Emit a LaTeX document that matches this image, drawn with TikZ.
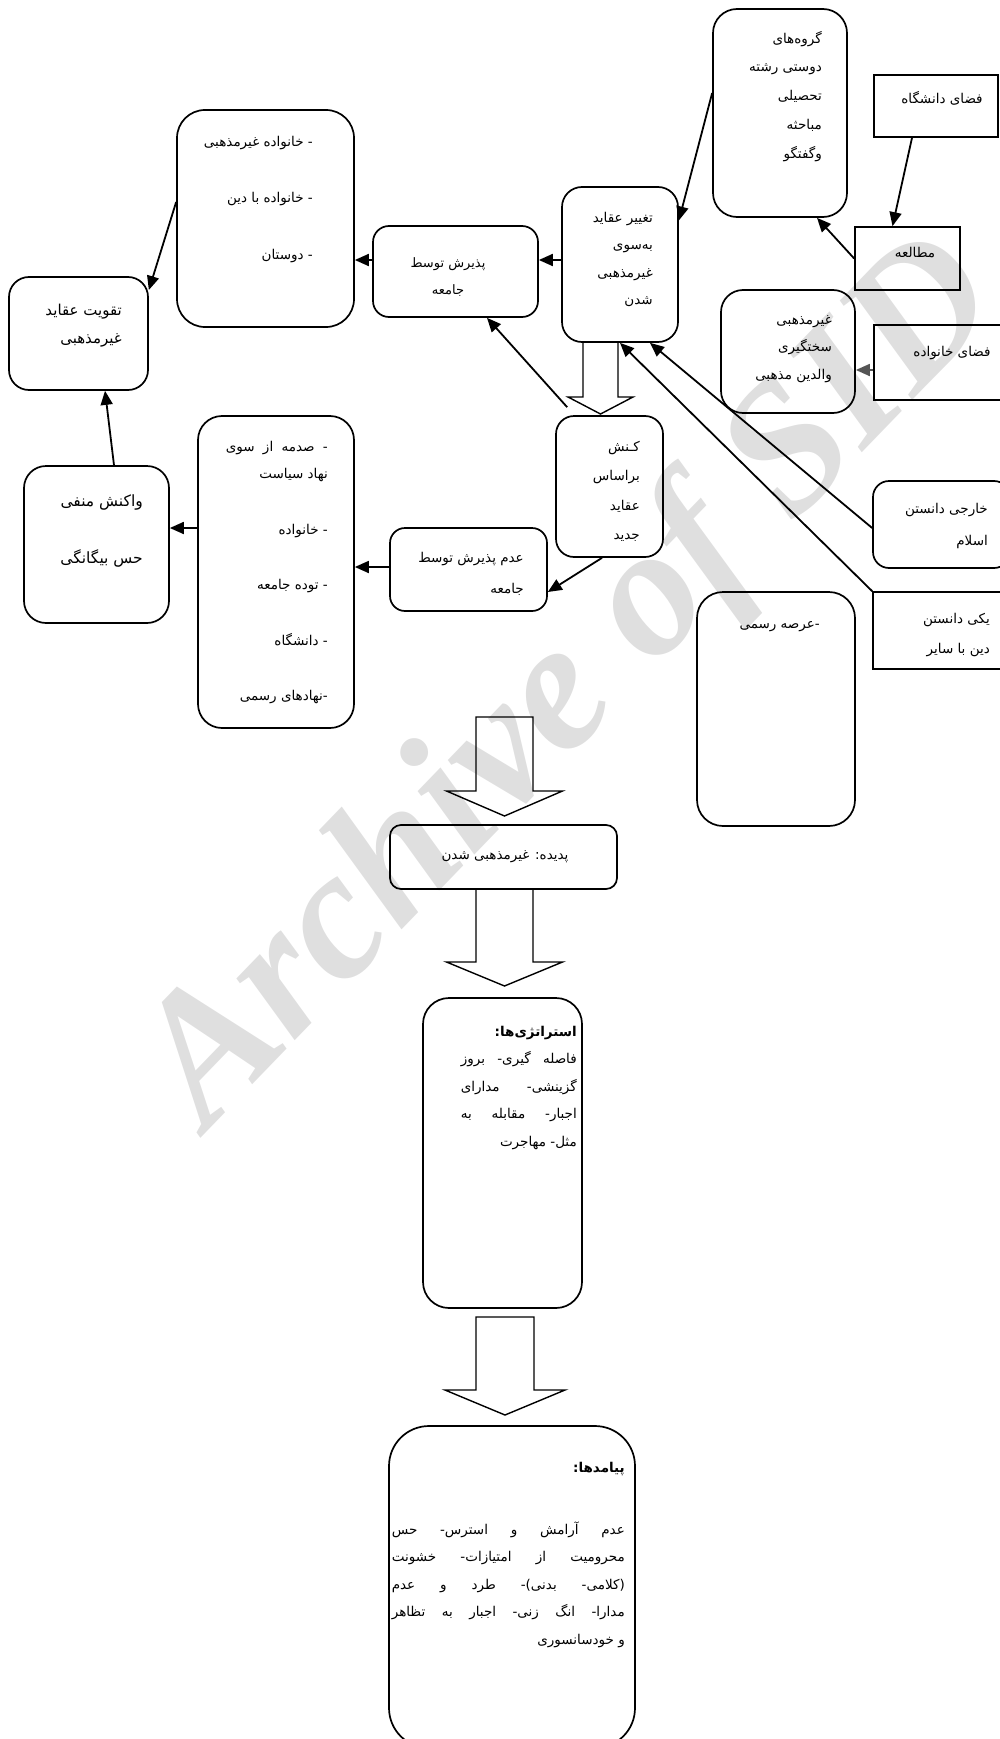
\documentclass[tikz,border=0pt]{standalone}
\usepackage{fontspec}
\usetikzlibrary{arrows.meta,calc}
\newfontfamily\arabicfont[Script=Arabic]{DejaVu Sans}
\newfontfamily\wmfont{Liberation Serif}
\TeXXeTstate=1
\definecolor{wmgrau}{HTML}{DFDFDF}
\definecolor{tipgrau}{HTML}{555555}
\newcommand{\fa}[1]{\beginR#1\endR}
\newcommand{\zk}{\kern0pt}
\newcommand{\js}{\hskip 3pt plus 1fill}
\newcommand{\jl}[2]{\hbox to #1{\beginR#2\endR}}
\tikzset{
  rund/.style={draw,line width=1.7pt,rounded corners=#1,inner sep=0pt},
  rund/.default=18pt,
  eck/.style={draw,line width=1.7pt,inner sep=0pt},
  pf/.style={-{Triangle[length=14pt,width=12pt]},line width=1.8pt},
  blk/.style={line width=1.4pt,line join=miter},
  txt/.style={font=\arabicfont\fontsize{#1}{27.5}\selectfont,align=right,inner sep=0pt,anchor=north east},
  txt/.default=13.5,
  ctxt/.style={font=\arabicfont\fontsize{#1}{27.5}\selectfont,align=center,inner sep=0pt},
  ctxt/.default=13.5,
  wm/.style={font=\wmfont\bfseries\itshape\fontsize{185}{185}\selectfont,text=wmgrau,inner sep=0pt},
}
\begin{document}
\begin{tikzpicture}[x=1pt,y=-1pt]
  \useasboundingbox (0,0) rectangle (1000,1739);
  \node[wm,rotate=46,anchor=base west] (wmark) at (207,1132) {Archive of SID};

  % boxes
  \node[rund=24pt,minimum width=134pt,minimum height=208pt] (goruh) at (780,113) {};
  \node[eck,minimum width=124pt,minimum height=62pt] (daneshgah) at (936,106) {};
  \node[eck,minimum width=105pt,minimum height=63pt] (motaleh) at (907.5,258.5) {};
  \node[eck,minimum width=136pt,minimum height=75pt] (khanevadeh) at (942,362.5) {};
  \node[rund=22pt,minimum width=134pt,minimum height=123pt] (sakht) at (788,351.5) {};
  \node[rund=20pt,minimum width=116pt,minimum height=155pt] (taghyir) at (620,264.5) {};
  \node[rund=16pt,minimum width=165pt,minimum height=91pt] (paziresh) at (455.5,271.5) {};
  \node[rund=28pt,minimum width=177pt,minimum height=217pt] (list1) at (265.5,218.5) {};
  \node[rund=20pt,minimum width=139pt,minimum height=113pt] (taghviat) at (78.5,333.5) {};
  \node[rund=22pt,minimum width=145pt,minimum height=157pt] (vakonesh) at (96.5,544.5) {};
  \node[rund=24pt,minimum width=156pt,minimum height=312pt] (list2) at (276,572) {};
  \node[rund=15pt,minimum width=157pt,minimum height=83pt] (adam) at (468.5,569.5) {};
  \node[rund=18pt,minimum width=107pt,minimum height=141pt] (konesh) at (609.5,486.5) {};
  \node[rund=16pt,minimum width=137pt,minimum height=87pt] (khareji) at (941.5,524.5) {};
  \node[eck,minimum width=137pt,minimum height=77pt] (yeki) at (941.5,630.5) {};
  \node[rund=26pt,minimum width=158pt,minimum height=234pt] (arseh) at (776,709) {};
  \node[rund=11pt,minimum width=227pt,minimum height=64pt] (padideh) at (503.5,857) {};
  \node[rund=26pt,minimum width=159pt,minimum height=310pt] (strat) at (502.5,1153) {};
  \node[rund=40pt,minimum width=246pt,minimum height=322pt] (payamad) at (512,1587) {};

  % texts
  \node[txt] (goruhT) at (822,31) {\fa{گروه‌های}\\[1.2pt]\fa{دوستی رشته}\\[1.2pt]\fa{تحصیلی}\\[1.2pt]\fa{مباحثه}\\[1.2pt]\fa{وگفتگو}};
  \node[ctxt] (daneshgahT) at (942,98) {\fa{فضای دانشگاه}};
  \node[ctxt] (motalehT) at (915,253) {\fa{مطالعه}};
  \node[ctxt] (khanevadehT) at (952,353) {\fa{فضای خانواده}};
  \node[txt] (sakhtT) at (832,315) {\fa{غیرمذهبی}\\\fa{سختگیری}\\\fa{والدین مذهبی}};
  \node[txt] (taghyirT) at (653,212) {\fa{تغییر عقاید}\\\fa{به‌سوی}\\\fa{غیرمذهبی}\\\fa{شدن}};
  \node[ctxt=13] (pazireshT) at (448,277) {\fa{پذیرش توسط}\\\fa{جامعه}};
  \node[txt] (list1T) at (313,136) {\fa{- خانواده غیرمذهبی}\\[29pt]\fa{- خانواده با دین}\\[29pt]\fa{- دوستان}};
  \node[txt=15] (taghviatT) at (122,304) {\fa{تقویت عقاید}\\\fa{غیرمذهبی}};
  \node[txt=15.5] (vakoneshT) at (143,495) {\fa{واکنش منفی}\\[29.5pt]\fa{حس بیگانگی}};
  \node[txt] (list2T) at (328,441) {\jl{102pt}{-\js صدمه\js از\js سوی}\\\fa{نهاد سیاست}\\[28pt]\fa{- خانواده}\\[28pt]\fa{- توده جامعه}\\[28pt]\fa{- دانشگاه}\\[28pt]\fa{-\zk نهادهای رسمی}};
  \node[txt] (adamT) at (524,552) {\fa{عدم پذیرش توسط}\\[3.5pt]\fa{جامعه}};
  \node[txt] (koneshT) at (640,441) {\fa{کـنش}\\[2pt]\fa{براساس}\\[2pt]\fa{عقاید}\\[2pt]\fa{جدید}};
  \node[txt] (kharejiT) at (988,503) {\fa{خارجی دانستن}\\[4.5pt]\fa{اسلام}};
  \node[txt] (yekiT) at (990,613) {\fa{یکی دانستن}\\[2.5pt]\fa{دین با سایر}};
  \node[txt] (arsehT) at (820,621) {\fa{-\zk عرصه رسمی}};
  \node[ctxt] (padidehT) at (505,857) {\fa{پدیده\zk: غیرمذهبی شدن}};
  \node[txt] (stratT) at (577,1026) {{\bfseries\fa{استراتژی‌ها\zk:}}\\
    \jl{116pt}{فاصله\js گیری\zk-\js بروز}\\
    \jl{116pt}{گزینشی\zk-\js مدارای}\\
    \jl{116pt}{اجبار\zk-\js مقابله\js به}\\
    \fa{مثل\zk- مهاجرت}};
  \node[txt] (payamadT) at (625,1462) {{\bfseries\fa{پیامدها\zk:}}\\[34.5pt]
    \jl{233pt}{عدم\js آرامش\js و\js استرس\zk-\js حس}\\
    \jl{233pt}{محرومیت\js از\js امتیازات\zk-\js خشونت}\\
    \jl{233pt}{(\zk کلامی\zk-\js بدنی\zk)\zk-\js طرد\js و\js عدم}\\
    \jl{233pt}{مدارا\zk-\js انگ\js زنی\zk-\js اجبار\js به\js تظاهر}\\
    \fa{و خودسانسوری}};

  % block arrows
  \foreach \cx/\top/\sh/\tip/\hw/\aw in {600.5/342/397/414/17.5/32.5, 504.5/717/791/816/28.5/58, 504.5/889/962/986/28.5/58, 505/1317/1390/1415/29/60}
    \draw[blk] (\cx-\hw,\top) -- (\cx-\hw,\sh) -- (\cx-\aw,\sh) -- (\cx,\tip) -- (\cx+\aw,\sh) -- (\cx+\hw,\sh) -- (\cx+\hw,\top) -- cycle;

  % connectors
  \draw[pf] ([yshift=20pt]goruh.west) -- ([yshift=44pt]taghyir.east);
  \draw[pf] ([xshift=-24pt]daneshgah.south) -- ([xshift=-15pt]motaleh.north);
  \draw[pf] (motaleh.west) -- ([xshift=37pt]goruh.south);
  \draw[pf,tipgrau] ([yshift=-7.5pt]khanevadeh.west) -- ([yshift=-7.5pt]khanevadeh.west -| sakht.east);
  \draw[pf] ([yshift=4.5pt]taghyir.west) -- ([yshift=4.5pt]taghyir.west -| paziresh.east);
  \draw[pf] ([yshift=11.5pt]paziresh.west) -- ([yshift=11.5pt]paziresh.west -| list1.east);
  \draw[pf] ([yshift=16.5pt]list1.west) -- ([yshift=43.5pt]taghviat.east);
  \draw[pf] ([xshift=17.5pt]vakonesh.north) -- ([xshift=26.5pt]taghviat.south);
  \draw[pf] ([yshift=44pt]list2.west) -- ([yshift=44pt]list2.west -| vakonesh.east);
  \draw[pf] ([yshift=2.5pt]adam.west) -- ([yshift=2.5pt]adam.west -| list2.east);
  \draw[pf] ([xshift=-7.5pt]konesh.south) -- ([yshift=-22.5pt]adam.east);
  \draw[pf] ([shift={(12pt,8pt)}]konesh.north west) -- ([xshift=31.5pt]paziresh.south);
  \draw[pf] ([yshift=-3.5pt]khareji.west) -- ([xshift=30pt]taghyir.south);
  \draw[pf] (yeki.north west) -- (taghyir.south);
\end{tikzpicture}
\end{document}
